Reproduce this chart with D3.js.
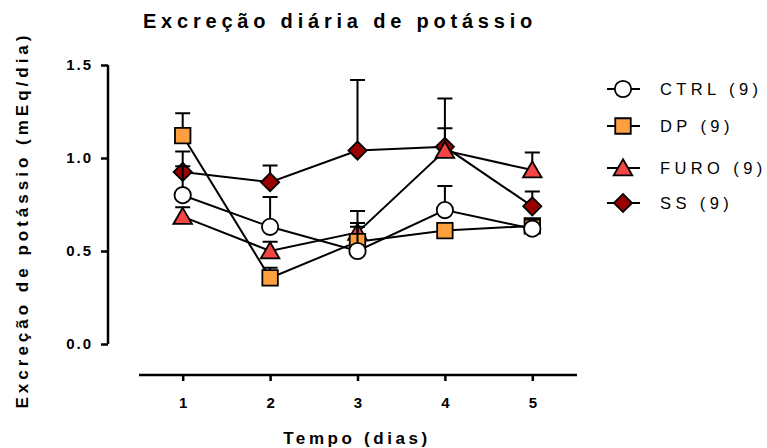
<!DOCTYPE html>
<html>
<head>
<meta charset="utf-8">
<script src="https://cdn.jsdelivr.net/npm/d3@7"></script>
<style>
  body { margin: 0; background: #fff; }
  text { font-family: "Liberation Sans", Arial, sans-serif; }
</style>
</head>
<body>
<div class="chart"></div>
<script>
const days = [1, 2, 3, 4, 5];
const groups = ["CTRL (9)", "DP (9)", "FURO (9)", "SS (9)"];
const ctrlMean = [0.80, 0.63, 0.50, 0.72, 0.62];
const ctrlSem = [0.155, 0.16, 0.215, 0.13, 0.05];
const dpMean = [1.12, 0.355, 0.55, 0.61, 0.635];
const dpSem = [0.12, 0.055, 0.08, 0.03, 0.03];
const furoMean = [0.685, 0.50, 0.60, 1.04, 0.935];
const furoSem = [0.05, 0.05, 0.05, 0.12, 0.095];
const ssMean = [0.925, 0.87, 1.04, 1.06, 0.74];
const ssSem = [0.11, 0.09, 0.38, 0.26, 0.08];
const yTicks = [0, 0.5, 1.0, 1.5];

const width = 767, height = 448;

const series = [
  {name: groups[3], mean: ssMean, sem: ssSem, sym: d3.symbolSquare, fill: "#990000", size: 165, rot: 45, dy: 0},
  {name: groups[2], mean: furoMean, sem: furoSem, sym: d3.symbolTriangle, fill: "#f44545", size: 150, rot: 0, dy: 2},
  {name: groups[1], mean: dpMean, sem: dpSem, sym: d3.symbolSquare, fill: "#ffa040", size: 240, rot: 0, dy: 0},
  {name: groups[0], mean: ctrlMean, sem: ctrlSem, sym: d3.symbolCircle, fill: "#ffffff", size: 210, rot: 0, dy: 0}
];

const x = d3.scaleLinear().domain([0.5, 5.5]).range([139, 576]);
const y = d3.scaleLinear().domain([0, 1.5]).range([344, 65]);

const svg = d3.select(".chart").append("svg")
  .attr("width", width)
  .attr("height", height);

// title
svg.append("text")
  .attr("x", 340).attr("y", 28)
  .attr("text-anchor", "middle")
  .attr("font-size", 20).attr("font-weight", "bold")
  .attr("letter-spacing", 4.8)
  .text("Excreção diária de potássio");

// y axis
const yAxis = svg.append("g")
  .attr("transform", `translate(108,0)`)
  .call(d3.axisLeft(y).tickValues(yTicks).tickFormat(d3.format(".1f")).tickSize(7).tickPadding(8));
yAxis.selectAll("text").attr("font-size", 15).attr("font-weight", "bold").attr("letter-spacing", 2).attr("fill", "#000");

// x axis
const xAxis = svg.append("g")
  .attr("transform", `translate(0,375)`)
  .call(d3.axisBottom(x).tickValues(days).tickFormat(d3.format("d")).tickSize(6).tickPadding(16));
xAxis.selectAll("text").attr("font-size", 15).attr("font-weight", "bold").attr("fill", "#000");

svg.selectAll(".domain").attr("stroke", "#000").attr("stroke-width", 2.5);
svg.selectAll(".tick line").attr("stroke", "#000").attr("stroke-width", 2.5);
xAxis.select(".domain").attr("d", "M139,0H577");
yAxis.select(".domain").attr("d", "M0,65V344");

// axis titles
svg.append("text")
  .attr("x", 357).attr("y", 444)
  .attr("text-anchor", "middle")
  .attr("font-size", 17).attr("font-weight", "bold")
  .attr("letter-spacing", 3.6)
  .text("Tempo (dias)");

svg.append("text")
  .attr("transform", "translate(28,220) rotate(-90)")
  .attr("text-anchor", "middle")
  .attr("font-size", 17).attr("font-weight", "bold")
  .attr("letter-spacing", 4)
  .text("Excreção de potássio (mEq/dia)");

// series
series.forEach(s => {
  const g = svg.append("g");
  const pts = days.map((d, i) => ({x: d, m: s.mean[i], e: s.sem[i]}));

  g.selectAll(".err").data(pts).join("path")
    .attr("fill", "none").attr("stroke", "#000").attr("stroke-width", 2)
    .attr("d", d => `M${x(d.x)},${y(d.m)}V${y(d.m + d.e)}M${x(d.x) - 7.5},${y(d.m + d.e)}H${x(d.x) + 7.5}`);

  g.append("path")
    .datum(pts)
    .attr("fill", "none").attr("stroke", "#000").attr("stroke-width", 2)
    .attr("d", d3.line().x(d => x(d.x)).y(d => y(d.m)));

  g.selectAll(".pt").data(pts).join("path")
    .attr("transform", d => `translate(${x(d.x)},${y(d.m) + s.dy}) rotate(${s.rot})`)
    .attr("d", d3.symbol().type(s.sym).size(s.size))
    .attr("fill", s.fill)
    .attr("stroke", "#000").attr("stroke-width", 1.8);
});

// legend
const legendY = [89, 126, 168, 203];
const legend = svg.append("g")
  .selectAll("g")
  .data(series.slice().reverse())
  .join("g")
  .attr("transform", (d, i) => `translate(623,${legendY[i]})`);

legend.append("path")
  .attr("d", "M-16,0H17")
  .attr("stroke", "#000").attr("stroke-width", 2);

legend.append("path")
  .attr("transform", d => `translate(0,${d.dy}) rotate(${d.rot})`)
  .attr("d", d => d3.symbol().type(d.sym).size(d.size)())
  .attr("fill", d => d.fill)
  .attr("stroke", "#000").attr("stroke-width", 1.8);

legend.append("text")
  .attr("x", 37).attr("y", 6)
  .attr("font-size", 16.5)
  .attr("letter-spacing", 4.4)
  .attr("fill", "#000")
  .text(d => d.name);
</script>
</body>
</html>
